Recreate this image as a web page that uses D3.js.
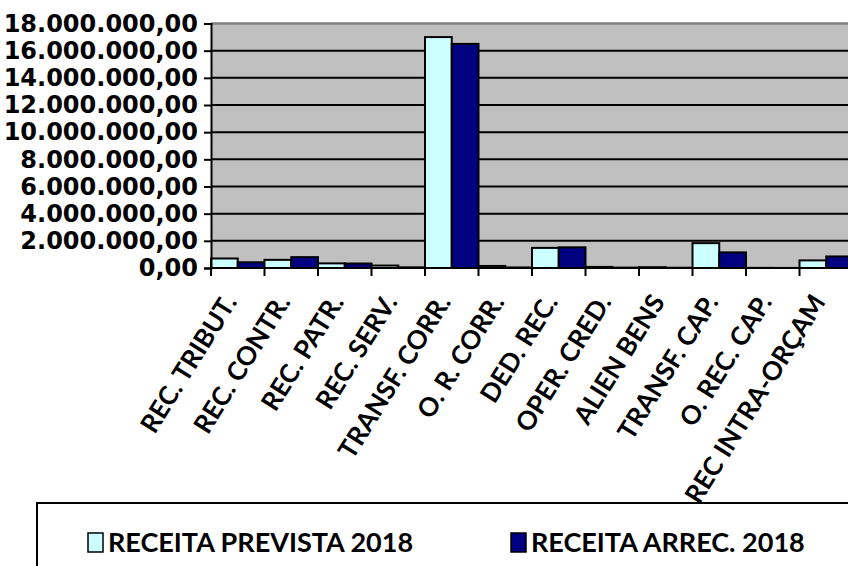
<!DOCTYPE html>
<html>
<head>
<meta charset="utf-8">
<script src="https://cdn.jsdelivr.net/npm/d3@7"></script>
<style>
    body { margin: 0; background: #ffffff; overflow: hidden; }
    svg { display: block; }
</style>
</head>
<body>
<svg></svg>
<script>
const width = 848;
const height = 566;

// dados
const categories = ["REC. TRIBUT.", "REC. CONTR.", "REC. PATR.", "REC. SERV.", "TRANSF. CORR.", "O. R. CORR.",
    "DED. REC.", "OPER. CRED.", "ALIEN BENS", "TRANSF. CAP.", "O. REC. CAP.", "REC INTRA-ORÇAM"];
const seriesNames = ["RECEITA PREVISTA 2018", "RECEITA ARREC. 2018"];
const prevista = [700000, 600000, 340000, 180000, 17000000, 150000, 1480000, 80000, 60000, 1830000, 10000, 560000];
const arrecadada = [420000, 800000, 330000, 50000, 16500000, 40000, 1520000, 30000, 20000, 1150000, 5000, 850000];
const yTicks = [0, 2000000, 4000000, 6000000, 8000000, 10000000, 12000000, 14000000, 16000000, 18000000];
const colors = ["#ccffff", "#000080"];

const plot = {left: 211, right: 853, top: 23.5, bottom: 268};

let svg = d3.select("svg")
    .attr("width", width)
    .attr("height", height);

const br = d3.formatLocale({decimal: ",", thousands: ".", grouping: [3], currency: ["", ""]});
const fmt = br.format(",.2f");

let x0 = d3.scaleBand()
    .domain(categories)
    .range([plot.left, plot.right])
    .paddingInner(0)
    .paddingOuter(0);

let x1 = d3.scaleBand()
    .domain(seriesNames)
    .range([0, x0.bandwidth()]);

let y = d3.scaleLinear()
    .domain([0, 18000000])
    .range([plot.bottom, plot.top]);

// fundo da area do grafico
svg.append("rect")
    .attr("x", plot.left)
    .attr("y", plot.top)
    .attr("width", plot.right - plot.left)
    .attr("height", plot.bottom - plot.top)
    .attr("fill", "#c0c0c0");

svg.append("line")
    .attr("x1", plot.left).attr("x2", plot.right)
    .attr("y1", plot.top).attr("y2", plot.top)
    .attr("stroke", "#808080")
    .attr("stroke-width", 2.5);

// linhas de grade
svg.append("g")
    .selectAll("line")
    .data(yTicks.filter(d => d > 0 && d < 18000000))
    .enter()
    .append("line")
    .attr("x1", plot.left).attr("x2", plot.right)
    .attr("y1", d => y(d)).attr("y2", d => y(d))
    .attr("stroke", "#000")
    .attr("stroke-width", 2);

const rows = categories.map((c, i) => ({cat: c, values: [prevista[i], arrecadada[i]]}));

let groups = svg.append("g")
    .selectAll("g")
    .data(rows)
    .enter()
    .append("g")
    .attr("transform", d => `translate(${x0(d.cat)},0)`);

groups.selectAll("rect")
    .data(d => d.values.map((v, k) => ({name: seriesNames[k], value: v, k: k})))
    .enter()
    .append("rect")
    .attr("x", d => x1(d.name))
    .attr("y", d => y(d.value))
    .attr("width", x1.bandwidth())
    .attr("height", d => y(0) - y(d.value))
    .attr("fill", d => colors[d.k])
    .attr("stroke", "#000")
    .attr("stroke-width", 2);

// eixo Y
let axisY = d3.axisLeft(y)
    .tickValues(yTicks)
    .tickSize(7)
    .tickPadding(6)
    .tickFormat(fmt);

let gy = svg.append("g")
    .attr("transform", `translate(${plot.left},0)`)
    .call(axisY);
gy.select(".domain").attr("stroke", "#000").attr("stroke-width", 2);
gy.selectAll(".tick line").attr("stroke", "#000").attr("stroke-width", 2);
gy.selectAll(".tick text")
    .attr("fill", "#000")
    .style("font-family", "'DejaVu Sans', sans-serif")
    .style("font-weight", "bold")
    .style("font-size", "24px");

// eixo X
svg.append("line")
    .attr("x1", plot.left).attr("x2", plot.right)
    .attr("y1", plot.bottom).attr("y2", plot.bottom)
    .attr("stroke", "#000")
    .attr("stroke-width", 2);

svg.append("g")
    .selectAll("line")
    .data(categories.map(c => x0(c)).concat([plot.right]))
    .enter()
    .append("line")
    .attr("x1", d => d).attr("x2", d => d)
    .attr("y1", plot.bottom).attr("y2", plot.bottom + 8)
    .attr("stroke", "#000")
    .attr("stroke-width", 2);

// legenda
svg.append("rect")
    .attr("x", 37)
    .attr("y", 503)
    .attr("width", 900)
    .attr("height", 120)
    .attr("fill", "#fff")
    .attr("stroke", "#000")
    .attr("stroke-width", 2);

const legendX = [88, 511];
let legend = svg.append("g")
    .selectAll("g")
    .data(seriesNames)
    .enter()
    .append("g")
    .attr("transform", (d, i) => `translate(${legendX[i]},533)`);

legend.append("rect")
    .attr("width", 15)
    .attr("height", 19)
    .attr("fill", (d, i) => colors[i])
    .attr("stroke", "#000")
    .attr("stroke-width", 1.5);

legend.append("text")
    .attr("x", 20)
    .attr("y", 19)
    .text(d => d)
    .style("font-family", "Lato, sans-serif")
    .style("font-weight", "bold")
    .style("font-size", "27px");

// rotulos das categorias
svg.append("g")
    .selectAll("text")
    .data(categories)
    .enter()
    .append("text")
    .attr("text-anchor", "end")
    .attr("transform", d => `translate(${x0(d) + x0.bandwidth() / 2},302) rotate(-58)`)
    .text(d => d)
    .style("font-family", "Lato, sans-serif")
    .style("font-weight", "bold")
    .style("font-size", "26px");
</script>
</body>
</html>
